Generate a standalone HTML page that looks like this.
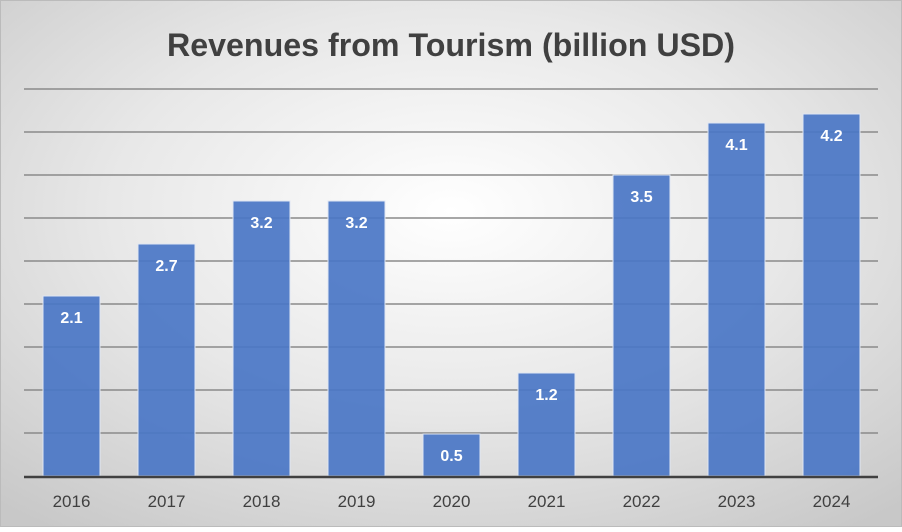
<!DOCTYPE html>
<html><head><style>
body{margin:0;width:902px;height:527px;overflow:hidden;}
</style></head><body>
<svg width="902" height="527" xmlns="http://www.w3.org/2000/svg" font-family="Liberation Sans, sans-serif">
<defs>
<radialGradient id="bg" cx="50%" cy="40%" r="75%">
<stop offset="0" stop-color="#ffffff"/>
<stop offset="0.5" stop-color="#e8e8e8"/>
<stop offset="1" stop-color="#c8c8c8"/>
</radialGradient>
</defs>
<rect x="0" y="0" width="902" height="527" fill="url(#bg)"/>
<rect x="0.5" y="0.5" width="901" height="526" fill="none" stroke="#bbb"/>
<text x="451" y="56" text-anchor="middle" font-size="32" font-weight="bold" fill="#404040" textLength="568" lengthAdjust="spacingAndGlyphs">Revenues from Tourism (billion USD)</text>
<g stroke="#8a8a8a" stroke-width="1.5">
<line x1="24" x2="878" y1="89" y2="89"/>
<line x1="24" x2="878" y1="132" y2="132"/>
<line x1="24" x2="878" y1="175" y2="175"/>
<line x1="24" x2="878" y1="218" y2="218"/>
<line x1="24" x2="878" y1="261" y2="261"/>
<line x1="24" x2="878" y1="304" y2="304"/>
<line x1="24" x2="878" y1="347" y2="347"/>
<line x1="24" x2="878" y1="390" y2="390"/>
<line x1="24" x2="878" y1="433" y2="433"/>
</g>
<g fill="#4a76c6" fill-opacity="0.92" stroke="#dfe6f3" stroke-width="1">
<rect x="43" y="296" width="57" height="180"/>
<rect x="138" y="244" width="57" height="232"/>
<rect x="233" y="201" width="57" height="275"/>
<rect x="328" y="201" width="57" height="275"/>
<rect x="423" y="434" width="57" height="42"/>
<rect x="518" y="373" width="57" height="103"/>
<rect x="613" y="175" width="57" height="301"/>
<rect x="708" y="123" width="57" height="353"/>
<rect x="803" y="114" width="57" height="362"/>
</g>
<line x1="24" x2="878" y1="477" y2="477" stroke="#404040" stroke-width="2.5"/>
<g fill="#fff" font-size="16" font-weight="bold" text-anchor="middle">
<text x="71.5" y="323">2.1</text>
<text x="166.5" y="271">2.7</text>
<text x="261.5" y="228">3.2</text>
<text x="356.5" y="228">3.2</text>
<text x="451.5" y="461">0.5</text>
<text x="546.5" y="400">1.2</text>
<text x="641.5" y="202">3.5</text>
<text x="736.5" y="150">4.1</text>
<text x="831.5" y="141">4.2</text>
</g>
<g fill="#404040" font-size="17" text-anchor="middle">
<text x="71.5" y="507">2016</text>
<text x="166.5" y="507">2017</text>
<text x="261.5" y="507">2018</text>
<text x="356.5" y="507">2019</text>
<text x="451.5" y="507">2020</text>
<text x="546.5" y="507">2021</text>
<text x="641.5" y="507">2022</text>
<text x="736.5" y="507">2023</text>
<text x="831.5" y="507">2024</text>
</g>
</svg>
</body></html>
